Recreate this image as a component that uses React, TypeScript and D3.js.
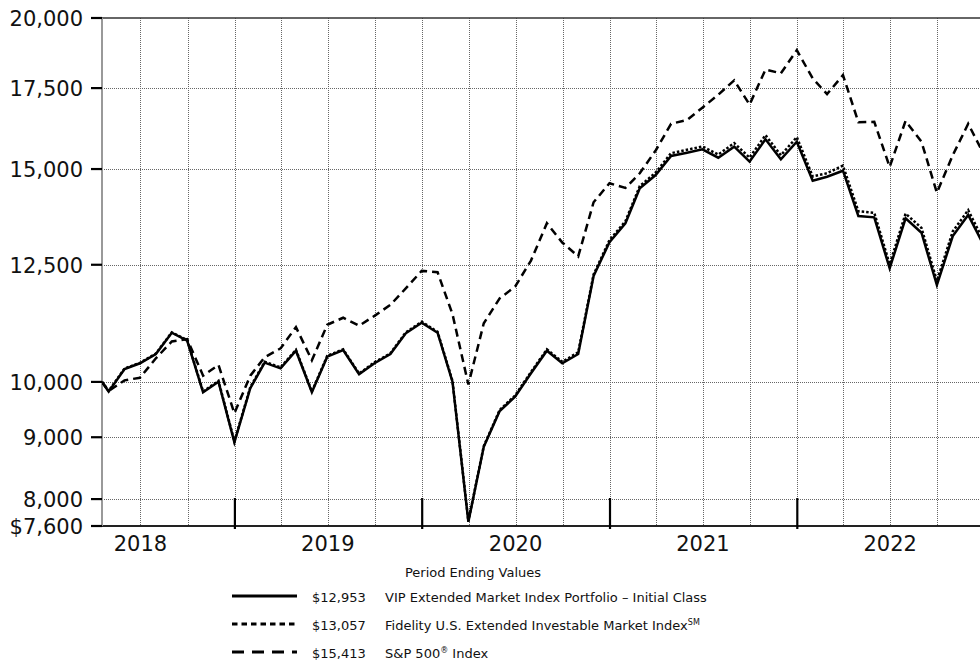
import React from "react";
import * as d3 from "d3";

// x categories: fund start date followed by month ends
const startDate = "2018-04-17";
const months = [
  "2018-04", "2018-05", "2018-06", "2018-07", "2018-08", "2018-09", "2018-10", "2018-11", "2018-12",
  "2019-01", "2019-02", "2019-03", "2019-04", "2019-05", "2019-06", "2019-07", "2019-08", "2019-09", "2019-10", "2019-11", "2019-12",
  "2020-01", "2020-02", "2020-03", "2020-04", "2020-05", "2020-06", "2020-07", "2020-08", "2020-09", "2020-10", "2020-11", "2020-12",
  "2021-01", "2021-02", "2021-03", "2021-04", "2021-05", "2021-06", "2021-07", "2021-08", "2021-09", "2021-10", "2021-11", "2021-12",
  "2022-01", "2022-02", "2022-03", "2022-04", "2022-05", "2022-06", "2022-07", "2022-08", "2022-09", "2022-10", "2022-11", "2022-12",
];

// VIP Extended Market Index Portfolio - Initial Class
const vipValues = [
  10000,
  9817, 10248, 10362, 10546, 10982, 10816, 9804, 10004, 8913,
  9880, 10373, 10262, 10613, 9804, 10492, 10627, 10146, 10362, 10546, 10970, 11193,
  10982, 10004, 7662, 8838, 9461, 9722, 10166, 10613, 10362, 10546, 12234, 13050,
  13528, 14460, 14830, 15378, 15475, 15574, 15328, 15652, 15212, 15874, 15280, 15802,
  14670, 14782, 14952, 13716, 13682, 12416, 13656, 13286, 12027, 13203, 13744, 12953,
];

// Fidelity U.S. Extended Investable Market Index
const indexValues = [
  10000,
  9830, 10260, 10370, 10555, 10990, 10830, 9820, 10020, 8930,
  9900, 10390, 10280, 10630, 9820, 10510, 10640, 10160, 10380, 10560, 10990, 11215,
  11000, 10020, 7670, 8850, 9480, 9745, 10190, 10640, 10390, 10580, 12270, 13100,
  13580, 14520, 14900, 15460, 15560, 15660, 15420, 15760, 15330, 16000, 15400, 15940,
  14790, 14880, 15100, 13840, 13800, 12510, 13780, 13410, 12120, 13320, 13870, 13057,
];

// S&P 500 Index
const sp500Values = [
  10000,
  9830, 10030, 10080, 10460, 10800, 10850, 10120, 10330, 9420,
  10120, 10480, 10660, 11100, 10420, 11150, 11300, 11130, 11340, 11580, 11950, 12355,
  12322, 11380, 9950, 11182, 11726, 11988, 12600, 13528, 13040, 12700, 14080, 14600,
  14470, 14880, 15540, 16350, 16470, 16860, 17280, 17760, 16960, 18130, 18000, 18810,
  17830, 17300, 17940, 16400, 16410, 15060, 16440, 15800, 14340, 15400, 16350, 15413,
];

const yTickValues = [7600, 8000, 9000, 10000, 12500, 15000, 17500, 20000];
const yTickLabels = ["$7,600", "8,000", "9,000", "10,000", "12,500", "15,000", "17,500", "20,000"];
const yearLabels = ["2018", "2019", "2020", "2021", "2022"];

const legendTitle = "Period Ending Values";
const legendValues = ["$12,953", "$13,057", "$15,413"];
const legendNames = [
  "VIP Extended Market Index Portfolio \u2013 Initial Class",
  "Fidelity U.S. Extended Investable Market Index",
  "S&P 500",
];
const legendSups = ["", "SM", "\u00AE"];
const legendSuffix = ["", "", " Index"];

const W = 980;
const H = 670;
const FONT = "'DejaVu Sans', Verdana, sans-serif";

export default function App() {
  const parseMonth = d3.timeParse("%Y-%m");
  const parseDay = d3.timeParse("%Y-%m-%d");
  const dates: Date[] = [
    parseDay(startDate) as Date,
    ...months.map((m) => d3.timeDay.offset(d3.timeMonth.offset(parseMonth(m) as Date, 1), -1)),
  ];

  const x = d3
    .scaleTime()
    .domain([new Date(2018, 0, 1), new Date(2023, 0, 1)])
    .range([47.6, 984.6]);
  const y = d3.scaleLog().domain([7600, 20000]).range([526, 18]);

  const plotLeft = 102;
  const plotRight = W;
  const plotTop = 18;
  const plotBottom = 526;

  const line = d3
    .line<number>()
    .x((_, i) => x(dates[i]))
    .y((v) => y(v));

  const quarters = d3.timeMonth
    .every(3)!
    .range(new Date(2018, 0, 1), new Date(2023, 0, 2))
    .filter((d) => x(d) > plotLeft + 2 && x(d) < plotRight - 1);
  const yearBounds = d3.timeYear.range(new Date(2019, 0, 1), new Date(2023, 0, 1));

  const legendY = [596, 624, 652];

  return (
    <svg
      width={W}
      height={H}
      viewBox={`0 0 ${W} ${H}`}
      style={{ position: "fixed", left: 0, top: 0, background: "#fff" }}
      fontFamily={FONT}
    >
      <rect x={0} y={0} width={W} height={H} fill="#fff" />
      <defs>
        <clipPath id="plot">
          <rect x={plotLeft} y={plotTop - 5} width={plotRight - plotLeft} height={plotBottom - plotTop + 10} />
        </clipPath>
      </defs>

      {/* horizontal grid */}
      {yTickValues
        .filter((v) => v !== 7600 && v !== 20000)
        .map((v) => (
          <line
            key={"hg" + v}
            x1={plotLeft}
            x2={plotRight}
            y1={Math.round(y(v)) + 0.5}
            y2={Math.round(y(v)) + 0.5}
            stroke="#666"
            strokeWidth={1}
            strokeDasharray="1,1"
          />
        ))}
      {/* vertical grid */}
      {quarters.map((d, i) => (
        <line
          key={"vg" + i}
          x1={Math.round(x(d)) + 0.5}
          x2={Math.round(x(d)) + 0.5}
          y1={plotTop}
          y2={plotBottom}
          stroke="#666"
          strokeWidth={1}
          strokeDasharray="1,1"
        />
      ))}

      {/* frame */}
      <line x1={plotLeft} x2={plotRight} y1={plotTop} y2={plotTop} stroke="#333" strokeWidth={1.6} />
      <line x1={plotLeft} x2={plotRight} y1={plotBottom} y2={plotBottom} stroke="#222" strokeWidth={1.8} />
      <line x1={plotLeft} x2={plotLeft} y1={plotTop} y2={plotBottom} stroke="#999" strokeWidth={2} />

      {/* y ticks and labels */}
      {yTickValues.map((v, i) => (
        <g key={"yt" + v}>
          <line x1={91} x2={plotLeft} y1={y(v)} y2={y(v)} stroke="#000" strokeWidth={2.2} />
          <text x={83} y={y(v)} dy="0.37em" textAnchor="end" fontSize={21} fill="#111">
            {yTickLabels[i]}
          </text>
        </g>
      ))}

      {/* year boundary ticks */}
      {yearBounds.map((d, i) => (
        <line
          key={"yb" + i}
          x1={x(d)}
          x2={x(d)}
          y1={498}
          y2={529}
          stroke="#000"
          strokeWidth={2.2}
        />
      ))}
      {yearLabels.map((yr) => (
        <text
          key={"yl" + yr}
          x={x(new Date(+yr, 6, 1))}
          y={551}
          textAnchor="middle"
          fontSize={21}
          fill="#111"
        >
          {yr}
        </text>
      ))}

      {/* series */}
      <g clipPath="url(#plot)" fill="none" strokeLinejoin="miter">
        <path d={line(sp500Values) || ""} stroke="#000" strokeWidth={2.5} strokeDasharray="8,5" />
        <path d={line(vipValues) || ""} stroke="#000" strokeWidth={2.5} />
        <path d={line(indexValues) || ""} stroke="#000" strokeWidth={2.5} strokeDasharray="2.5,2" />
      </g>

      {/* legend */}
      <text x={473} y={577} textAnchor="middle" fontSize={13} fill="#111">
        {legendTitle}
      </text>
      {legendValues.map((val, i) => (
        <g key={"lg" + i}>
          <line
            x1={232}
            x2={297}
            y1={legendY[i]}
            y2={legendY[i]}
            stroke="#000"
            strokeWidth={3}
            strokeDasharray={i === 0 ? undefined : i === 1 ? "5.5,4" : "12,8"}
          />
          <text x={312} y={legendY[i] + 6} fontSize={13} fill="#111">
            {val}
          </text>
          <text x={385} y={legendY[i] + 6} fontSize={13} fill="#111">
            {legendNames[i]}
            {legendSups[i] ? (
              <tspan fontSize={8} dy={-5}>
                {legendSups[i]}
              </tspan>
            ) : null}
            {legendSuffix[i] ? <tspan dy={5}>{legendSuffix[i]}</tspan> : null}
          </text>
        </g>
      ))}
    </svg>
  );
}
